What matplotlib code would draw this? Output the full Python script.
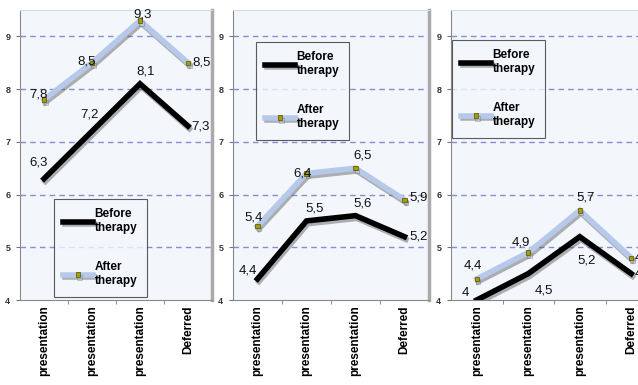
import numpy as np
import matplotlib.pyplot as plt
import matplotlib.patheffects as pe

plt.rcParams['font.family'] = ['Liberation Sans', 'DejaVu Sans']

# categories (the chart only shows the last word of each label)
categories = ['presentation', 'presentation', 'presentation', 'Deferred']

# three panels: before / after therapy
before_1 = [6.3, 7.2, 8.1, 7.3]
after_1 = [7.8, 8.5, 9.3, 8.5]
before_2 = [4.4, 5.5, 5.6, 5.2]
after_2 = [5.4, 6.4, 6.5, 5.9]
before_3 = [4.0, 4.5, 5.2, 4.5]
after_3 = [4.4, 4.9, 5.7, 4.8]

# label offsets (points) for each value label
off_b1 = [(-4, 12), (-2, 12), (4, 9), (9, 0)]
off_a1 = [(-4, 4), (-4, 1), (2, 4), (10, 0)]
off_b2 = [(-7, 6), (6, 9), (5, 9), (10, 0)]
off_a2 = [(-3, 6), (-3, 0), (5, 9), (10, 2)]
off_b3 = [(-8, 5), (11, -12), (5, -17), (9, 0)]
off_a3 = [(-3, 10), (-5, 7), (4, 9), (9, 0)]

panels = [
    (before_1, after_1, off_b1, off_a1, [20, 212], (54, 199)),
    (before_2, after_2, off_b2, off_a2, [233, 429], (256, 42)),
    (before_3, after_3, off_b3, off_a3, [451, 657], (452, 40)),
]

W, H = 638, 385
fig = plt.figure(figsize=(W / 100, H / 100), dpi=100)
top_px, bot_px = 10, 300

x = np.arange(len(categories))
shadow = [pe.SimpleLineShadow(offset=(1, -2), shadow_color='#555555', alpha=0.45),
          pe.Normal()]

for before, after, ob, oa, (l, r), (lx0, ly0) in panels:
    ax = fig.add_axes([l / W, 1 - bot_px / H, (r - l) / W, (bot_px - top_px) / H])
    ax.set_facecolor('#f3f7fc')
    ax.set_xlim(-0.5, 3.5)
    ax.set_ylim(4, 9.5)
    for y in range(5, 10):
        ax.axhline(y, color='#8a8ad6', lw=1, ls=(0, (4, 3)), zorder=1)

    ax.plot(x, before, color='black', lw=4, solid_joinstyle='miter',
            path_effects=shadow, zorder=3, label='Before\ntherapy')
    ax.plot(x, after, color='#b7c9ea', lw=4, marker='s', ms=3.2,
            mfc='#a5a000', mec='#505000', mew=0.5, solid_joinstyle='miter',
            path_effects=shadow, zorder=3, label='After\ntherapy')

    for xi, v, o in zip(x, before, ob):
        ax.annotate(f'{v:g}'.replace('.', ','), (xi, v), xytext=o,
                    textcoords='offset points', ha='center', va='center',
                    fontsize=9.5, color='#111111', zorder=5)
    for xi, v, o in zip(x, after, oa):
        ax.annotate(f'{v:g}'.replace('.', ','), (xi, v), xytext=o,
                    textcoords='offset points', ha='center', va='center',
                    fontsize=9.5, color='#111111', zorder=5)

    ax.set_xticks(x)
    ax.set_xticklabels(categories, rotation=90, fontsize=8.5, fontweight='bold',
                       va='top', ha='center')
    ax.tick_params(axis='x', length=0, pad=4)
    ax.set_xticks([0.5, 1.5, 2.5], minor=True)
    ax.tick_params(axis='x', which='minor', length=3, direction='out', color='#777777')
    ax.set_yticks(range(4, 10))
    ax.tick_params(axis='y', labelsize=6.5, length=3, color='#777777',
                   labelcolor='#333333', pad=4)
    for lab in ax.get_yticklabels():
        lab.set_fontweight('bold')

    ax.spines['left'].set_color('#888888')
    ax.spines['bottom'].set_color('#888888')
    ax.spines['top'].set_color('#cfdbee')
    ax.spines['right'].set_color('#aaaaaa')
    ax.spines['right'].set_linewidth(2.5)

    lg = ax.legend(loc='upper left',
                   bbox_to_anchor=((lx0 - l) / (r - l), (bot_px - ly0) / (bot_px - top_px)),
                   frameon=True, fancybox=False, edgecolor='#333333',
                   prop={'size': 8.5, 'weight': 'bold'}, handlelength=2.5,
                   handletextpad=0.15, labelspacing=2.3, borderpad=0.8,
                   borderaxespad=0)
    lg.get_frame().set_facecolor('#f3f7fc')
    lg.get_frame().set_linewidth(0.8)
    lg.set_zorder(6)

fig.savefig('out.png', dpi=100)
